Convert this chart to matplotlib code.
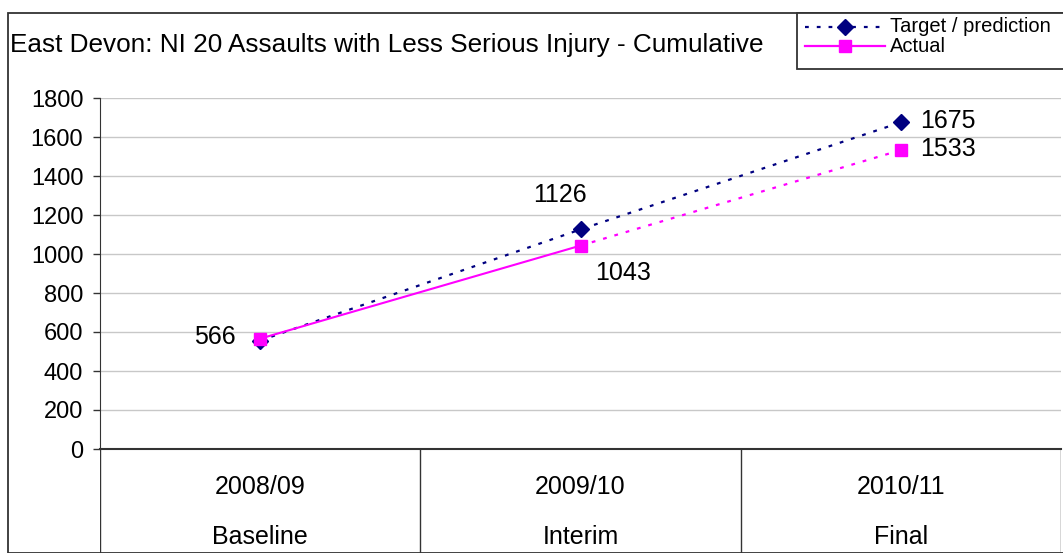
import matplotlib
matplotlib.use("Agg")
import matplotlib.pyplot as plt
from matplotlib.lines import Line2D
from matplotlib.patches import Rectangle

plt.rcParams["font.family"] = ["Liberation Sans", "DejaVu Sans"]

# データ
years = ["2008/09", "2009/10", "2010/11"]
stages = ["Baseline", "Interim", "Final"]
target = [556, 1126, 1675]
actual = [566, 1043, 1533]
title = "East Devon: NI 20 Assaults with Less Serious Injury - Cumulative"

# 色・線種
NAVY = "#000080"
MAGENTA = "#FF00FF"
DOT = (0, (1.7, 3.6))

W, H = 1063, 553
fig = plt.figure(figsize=(W / 100, H / 100), dpi=100)


def fx(px):
    return px / W


def fy(py):
    return 1 - py / H


# 外枠
fig.patches.append(Rectangle((fx(8), 0), 1.0, fy(13), transform=fig.transFigure,
                             fill=False, edgecolor="#333333", lw=1.3))

fig.text(fx(10), fy(45), title, fontsize=18.8, ha="left", va="center")

# プロット領域
ax = fig.add_axes([fx(100), fy(449), fx(1061) - fx(100), fy(98) - fy(449)])
x = list(range(len(years)))

ax.plot(x, target, color=NAVY, lw=1.6, linestyle=DOT, marker="D", markersize=8,
        markerfacecolor=NAVY, markeredgecolor=NAVY, zorder=3)
ax.plot(x[:2], actual[:2], color=MAGENTA, lw=1.5, zorder=4)
ax.plot(x[1:], actual[1:], color=MAGENTA, lw=1.6, linestyle=DOT, zorder=4)
ax.plot(x, actual, linestyle="none", marker="s", markersize=8,
        markerfacecolor=MAGENTA, markeredgecolor=MAGENTA, zorder=5)

# データラベル
lbl = dict(fontsize=18, textcoords="offset points")
ax.annotate(str(actual[0]), (x[0], actual[0]), xytext=(-18, 1), ha="right", va="center", **lbl)
ax.annotate(str(target[1]), (x[1], target[1]), xytext=(-15, 25), ha="center", va="center", **lbl)
ax.annotate(str(actual[1]), (x[1], actual[1]), xytext=(31, -20), ha="center", va="center", **lbl)
ax.annotate(str(target[2]), (x[2], target[2]), xytext=(14, 1), ha="left", va="center", **lbl)
ax.annotate(str(actual[2]), (x[2], actual[2]), xytext=(14, 1), ha="left", va="center", **lbl)

ax.set_xlim(-0.5, len(years) - 0.5)
ax.set_ylim(0, 1800)
ax.set_yticks(range(0, 1801, 200))
ax.set_xticks([])
ax.tick_params(axis="y", labelsize=17, length=5, width=1, color="#333333", pad=7)
ax.yaxis.grid(True, color="#c8c8c8", lw=1)
ax.set_axisbelow(True)
for s in ["top", "right"]:
    ax.spines[s].set_visible(False)
ax.spines["left"].set_color("#333333")
ax.spines["bottom"].set_color("#333333")
ax.spines["bottom"].set_linewidth(1.5)

# 下の表
tab = fig.add_axes([fx(100), 0, fx(1061) - fx(100), fy(449)])
tab.set_xlim(-0.5, len(years) - 0.5)
tab.set_ylim(0, 1)
tab.axis("off")
for i in range(len(years) + 1):
    tab.axvline(i - 0.5, color="#333333", lw=1)
for i, (yr, st) in enumerate(zip(years, stages)):
    tab.text(i, fy(487) / fy(449), yr, fontsize=18, ha="center", va="center")
    tab.text(i, fy(537) / fy(449), st, fontsize=18, ha="center", va="center")

# 凡例
fig.patches.append(Rectangle((fx(797), fy(69)), 1.0, fy(13) - fy(69), transform=fig.transFigure,
                             facecolor="white", edgecolor="#333333", lw=1.3, zorder=5))
legend_items = [("Target / prediction", NAVY, DOT, "D", 27),
                ("Actual", MAGENTA, "-", "s", 46)]
for label, c, ls, m, py in legend_items:
    fig.add_artist(Line2D([fx(805), fx(885)], [fy(py), fy(py)], transform=fig.transFigure,
                          color=c, lw=1.6, linestyle=ls, zorder=6))
    fig.add_artist(Line2D([fx(845)], [fy(py)], transform=fig.transFigure, color=c,
                          marker=m, markersize=8, linestyle="none", zorder=7))
    fig.text(fx(890), fy(py), label, fontsize=14.5, ha="left", va="center", zorder=8)

fig.savefig("out.png", dpi=100)
